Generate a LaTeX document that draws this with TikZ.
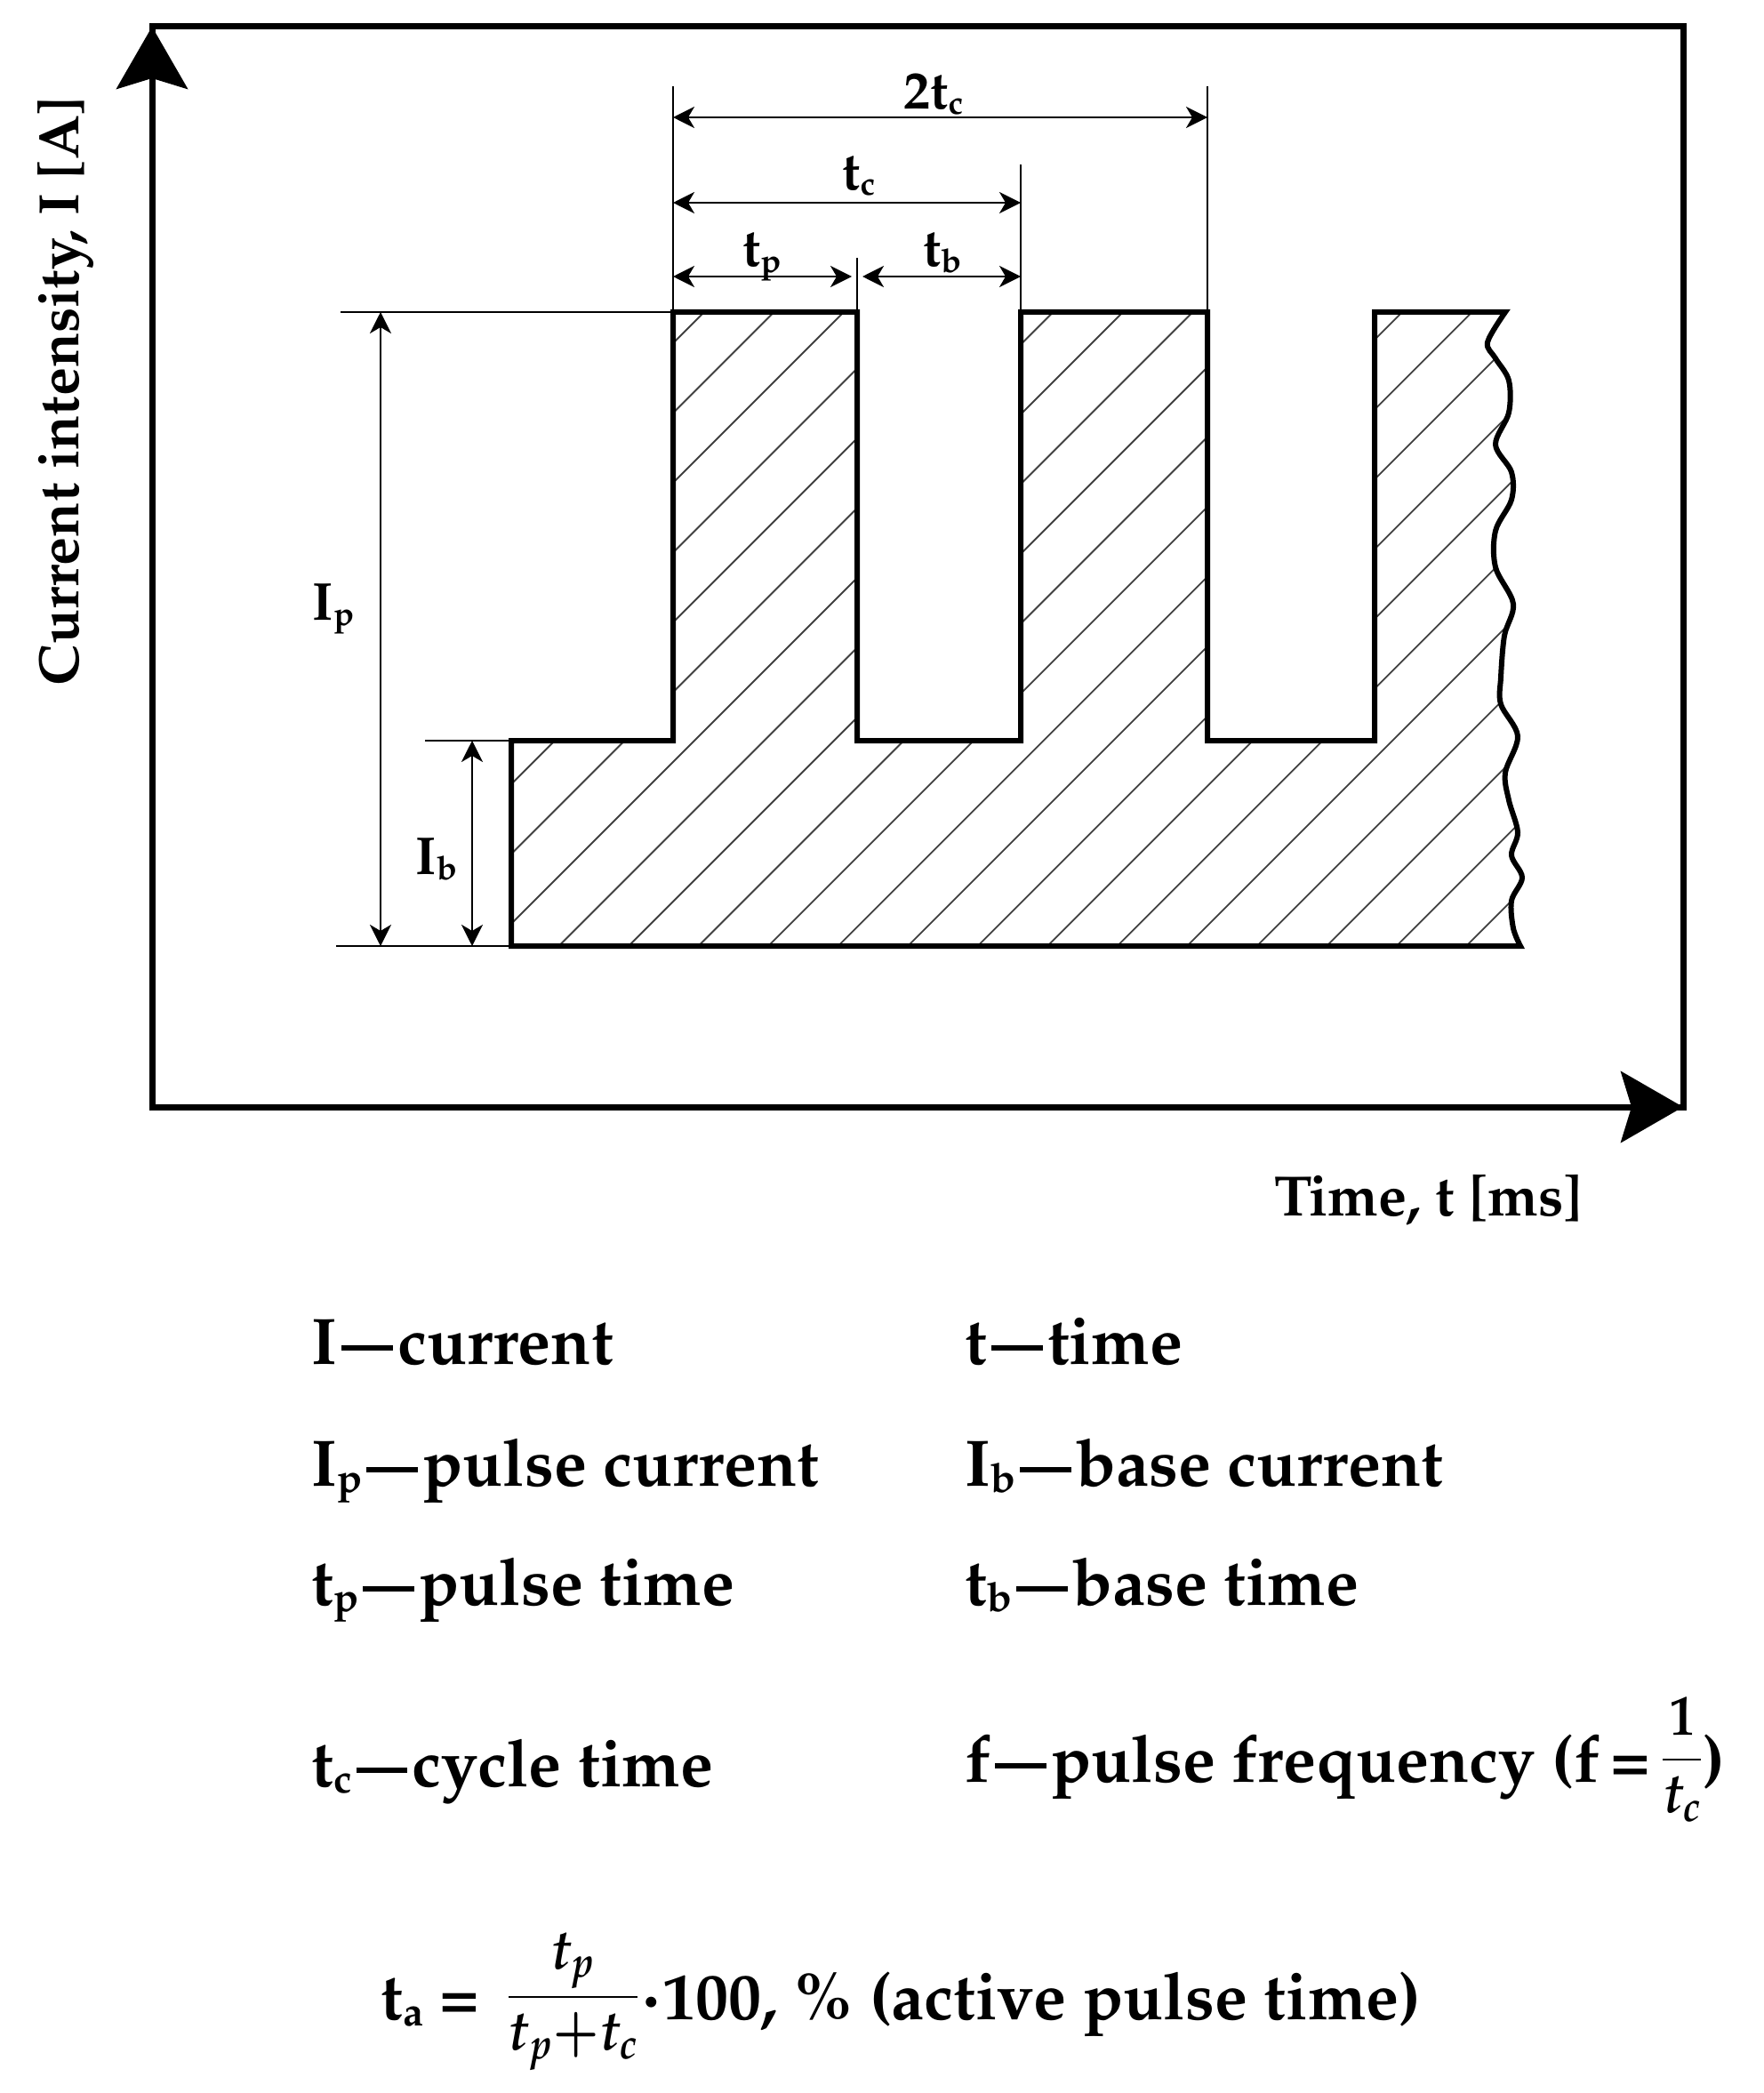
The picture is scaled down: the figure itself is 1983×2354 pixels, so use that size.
\documentclass[tikz,border=0pt]{standalone}
\usepackage[T1]{fontenc}
\usepackage{mathpazo}
\usetikzlibrary{arrows.meta}
\newcommand\lsub[1]{\raisebox{-0.1em}{\scalebox{0.62}{#1}}}
\newcommand\ldash{\hspace{0.07em}\rule[0.2em]{0.78em}{0.08em}\hspace{0.07em}}
\newcommand\smallfrac[2]{\raisebox{4.5pt}{\scalebox{0.86}[1]{\fontsize{32}{37}\selectfont$\displaystyle\frac{#1}{#2}$}}}
\tikzset{
  frameline/.style={line width=3.5pt},
  waveline/.style={line width=3pt, line join=miter},
  extline/.style={line width=1.2pt},
  hatchline/.style={line width=0.9pt, black!75},
  dimline/.style={line width=1.4pt, {Stealth[length=12pt,width=12pt,inset=3.5pt]}-{Stealth[length=12pt,width=12pt,inset=3.5pt]}},
  axtip/.style={frameline, -{Stealth[length=35pt,width=40pt,inset=6pt]}},
  lab/.style={font=\fontsize{30}{36}\selectfont\bfseries, inner sep=0pt, anchor=base},
  axl/.style={font=\fontsize{32}{38}\selectfont\bfseries, inner sep=0pt},
  leg/.style={font=\fontsize{37}{44}\selectfont\bfseries\boldmath, inner sep=0pt, anchor=base west},
}
\begin{document}
\begin{tikzpicture}[x=0.5pt,y=-0.5pt]
\useasboundingbox (0,0) rectangle (1983,2354);
\fill[white] (0,0) rectangle (1983,2354);

% hatching
\begin{scope}
\clip (575,1064) -- (575,833) -- (757,833) -- (757,351) -- (964,351) -- (964,833) -- (1148,833) -- (1148,351) -- (1358,351) -- (1358,833) -- (1546,833) -- (1546,351) -- (1693,351)
 -- plot[smooth, tension=0.55] coordinates {(1693,351) (1673,385) (1682,403) (1697,428) (1697,464) (1682,500) (1700,531) (1700,562) (1682,597) (1682,638) (1702,679) (1692,715) (1688,762) (1688,792) (1707,828) (1693,869) (1697,900) (1707,936) (1700,962) (1712,987) (1700,1013) (1702,1044) (1710,1064)} -- cycle;
\foreach \k in {-6,...,20} {
  \pgfmathsetmacro\cc{1300+78.5*\k}
  \draw[hatchline] (\cc-1150,1150) -- (\cc-300,300);
}
\end{scope}

% waveform outline
\draw[waveline] (575,1064) -- (575,833) -- (757,833) -- (757,351) -- (964,351) -- (964,833) -- (1148,833) -- (1148,351) -- (1358,351) -- (1358,833) -- (1546,833) -- (1546,351) -- (1693,351)
 -- plot[smooth, tension=0.55] coordinates {(1693,351) (1673,385) (1682,403) (1697,428) (1697,464) (1682,500) (1700,531) (1700,562) (1682,597) (1682,638) (1702,679) (1692,715) (1688,762) (1688,792) (1707,828) (1693,869) (1697,900) (1707,936) (1700,962) (1712,987) (1700,1013) (1702,1044) (1710,1064)} -- cycle;

% extension lines
\coordinate (ta) at (383,351);  \coordinate (tb) at (757,351);
\coordinate (ba) at (478,833);  \coordinate (bb) at (575,833);
\coordinate (za) at (378,1064); \coordinate (zb) at (575,1064);
\draw[extline] (ta) -- (tb);
\draw[extline] (ba) -- (bb);
\draw[extline] (za) -- (zb);
\coordinate (v1a) at (757,97);  \coordinate (v1b) at (757,351);
\coordinate (v2a) at (964,290); \coordinate (v2b) at (964,351);
\coordinate (v3a) at (1148,185); \coordinate (v3b) at (1148,351);
\coordinate (v4a) at (1358,97); \coordinate (v4b) at (1358,351);
\draw[extline] (v1a) -- (v1b);
\draw[extline] (v2a) -- (v2b);
\draw[extline] (v3a) -- (v3b);
\draw[extline] (v4a) -- (v4b);

% dimension arrows
\coordinate (d2a) at (757,132); \coordinate (d2b) at (1358,132);
\coordinate (dca) at (757,228); \coordinate (dcb) at (1148,228);
\coordinate (dpa) at (757,311); \coordinate (dpb) at (964,311);
\coordinate (dba) at (964,311); \coordinate (dbb) at (1148,311);
\coordinate (ipa) at (428,351); \coordinate (ipb) at (428,1064);
\coordinate (iba) at (531,833); \coordinate (ibb) at (531,1064);
\draw[dimline] (d2a) -- (d2b);
\draw[dimline] (dca) -- (dcb);
\draw[dimline, shorten >=3pt] (dpa) -- (dpb);
\draw[dimline, shorten <=3pt] (dba) -- (dbb);
\draw[dimline] (ipa) -- (ipb);
\draw[dimline] (iba) -- (ibb);

\node[lab] (l2tc) at (1050,123) {2t\lsub{c}};
\node[lab] (ltc) at (966,214) {t\lsub{c}};
\node[lab] (ltp) at (857,300) {t\lsub{p}};
\node[lab] (ltb) at (1060,300) {t\lsub{b}};
\node[lab] (lip) at (375,697) {I\lsub{p}};
\node[lab] (lib) at (491,983) {I\lsub{b}};

% frame with axes
\draw[frameline] (171,30) rectangle (1893,1245);
\coordinate (yax0) at (171,300); \coordinate (yax1) at (171,30);
\coordinate (xax0) at (1600,1245); \coordinate (xax1) at (1893,1245);
\draw[axtip] (yax0) -- (yax1);
\draw[axtip] (xax0) -- (xax1);

\node[axl, anchor=base west] (xlab) at (1433,1367) {Time, t [ms]};
\node[axl, anchor=base, rotate=90] (ylab) at (88,440) {Current intensity, I [A]};

% legend
\node[leg] (g1) at (350,1534) {I\ldash current};
\node[leg] (g2) at (1085,1534) {t\ldash time};
\node[leg] (g3) at (350,1671) {I\lsub{p}\ldash pulse current};
\node[leg] (g4) at (1085,1671) {I\lsub{b}\ldash base current};
\node[leg] (g5) at (350,1805) {t\lsub{p}\ldash pulse time};
\node[leg] (g6) at (1085,1805) {t\lsub{b}\ldash base time};
\node[leg] (g7) at (350,2009) {t\lsub{c}\ldash cycle time};
\node[leg] (g8) at (1085,2004) {f\ldash pulse frequency (f\,=\,\smallfrac{1}{t_c})};
\node[leg] (g9) at (428,2271) {t\lsub{a} = \,\smallfrac{t_p}{t_p{+}t_c}$\cdot$100, \% (active pulse time)};
\end{tikzpicture}
\end{document}
